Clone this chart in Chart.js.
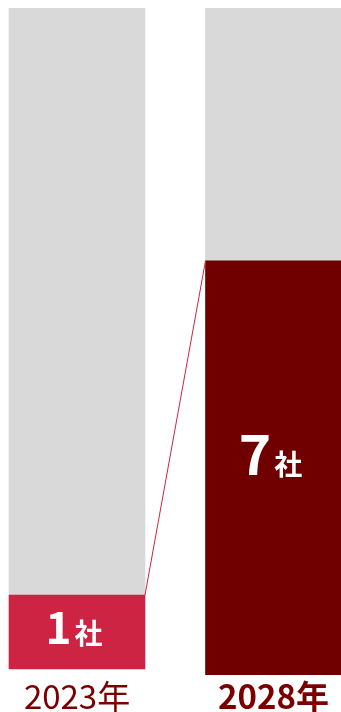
<!DOCTYPE html>
<html><head><meta charset="utf-8">
<script src="https://cdn.jsdelivr.net/npm/chart.js@4"></script>
<style>html,body{margin:0;padding:0;background:#fff}#wrap{width:341px;height:712px;position:relative}</style>
</head><body><div id="wrap"><canvas id="c"></canvas></div>
<script>
const categories = ['2023年', '2028年'];
const companyCounts = [1, 7];
const countUnit = '社';
const filledShare = [12.0, 62.1];
const barBase = [0.9, 0];
const fullShare = [100, 100];

const FONT = '"Noto Sans CJK JP", "Noto Sans", sans-serif';
const redColors = ['#cc2442', '#700000'];
const grayColor = '#d9d9d9';

const redData = categories.map((c, i) => ({x: i, y: [barBase[i], filledShare[i]]}));
const grayData = categories.map((c, i) => ({x: i, y: [filledShare[i], fullShare[i]]}));

const overlay = {
  id: 'overlay',
  afterDatasetsDraw(chart) {
    const ctx = chart.ctx;
    const bars = chart.getDatasetMeta(0).data;
    const a = bars[0], b = bars[1];
    ctx.save();
    ctx.strokeStyle = '#cc2442';
    ctx.lineWidth = 1;
    ctx.beginPath();
    ctx.moveTo(a.x + a.width / 2, a.y);
    ctx.lineTo(b.x - b.width / 2, b.y);
    ctx.stroke();
    const sizes = [[44, 28], [55, 28]];
    ctx.fillStyle = '#ffffff';
    ctx.textBaseline = 'alphabetic';
    bars.forEach((bar, i) => {
      const num = String(companyCounts[i]);
      const [ns, us] = sizes[i];
      ctx.font = 'bold ' + ns + 'px ' + FONT;
      const nw = ctx.measureText(num).width;
      ctx.font = 'bold ' + us + 'px ' + FONT;
      const uw = ctx.measureText(countUnit).width;
      const gap = 3;
      const total = nw + gap + uw;
      const cx = bar.x - 3;
      const cy = (bar.y + bar.base) / 2;
      const baseline = cy + (i === 0 ? 12 : 7);
      let x0 = cx - total / 2;
      ctx.textAlign = 'left';
      ctx.font = 'bold ' + ns + 'px ' + FONT;
      ctx.fillText(num, x0, baseline);
      ctx.font = 'bold ' + us + 'px ' + FONT;
      ctx.fillText(countUnit, x0 + nw + gap, baseline);
    });
    ctx.restore();
  }
};

new Chart(document.getElementById('c'), {
  type: 'bar',
  data: {
    datasets: [
      {data: redData, backgroundColor: redColors, barThickness: 136, grouped: false, order: 1},
      {data: grayData, backgroundColor: grayColor, barThickness: 136, grouped: false, order: 2}
    ]
  },
  options: {
    responsive: true,
    maintainAspectRatio: false,
    animation: false,
    layout: {padding: {top: 8, left: 0, right: 0, bottom: 0}},
    plugins: {legend: {display: false}, tooltip: {enabled: false}},
    scales: {
      x: {
        type: 'linear',
        offset: false,
        min: -0.3919,
        max: 1.3435,
        grid: {display: false, drawTicks: false, offset: false},
        border: {display: false},
        afterBuildTicks: (axis) => { axis.ticks = categories.map((c, i) => ({value: i})); },
        afterFit: (axis) => { axis.height = 37; },
        ticks: {
          padding: 2,
          color: '#7a0000',
          maxRotation: 0,
          autoSkip: false,
          callback: (v) => categories[v],
          font: (ctx) => ({family: FONT, size: 33, weight: ctx.index === 1 ? 'bold' : 'normal'})
        }
      },
      y: {display: false, min: 0, max: 100}
    }
  },
  plugins: [overlay]
});
</script></body></html>
